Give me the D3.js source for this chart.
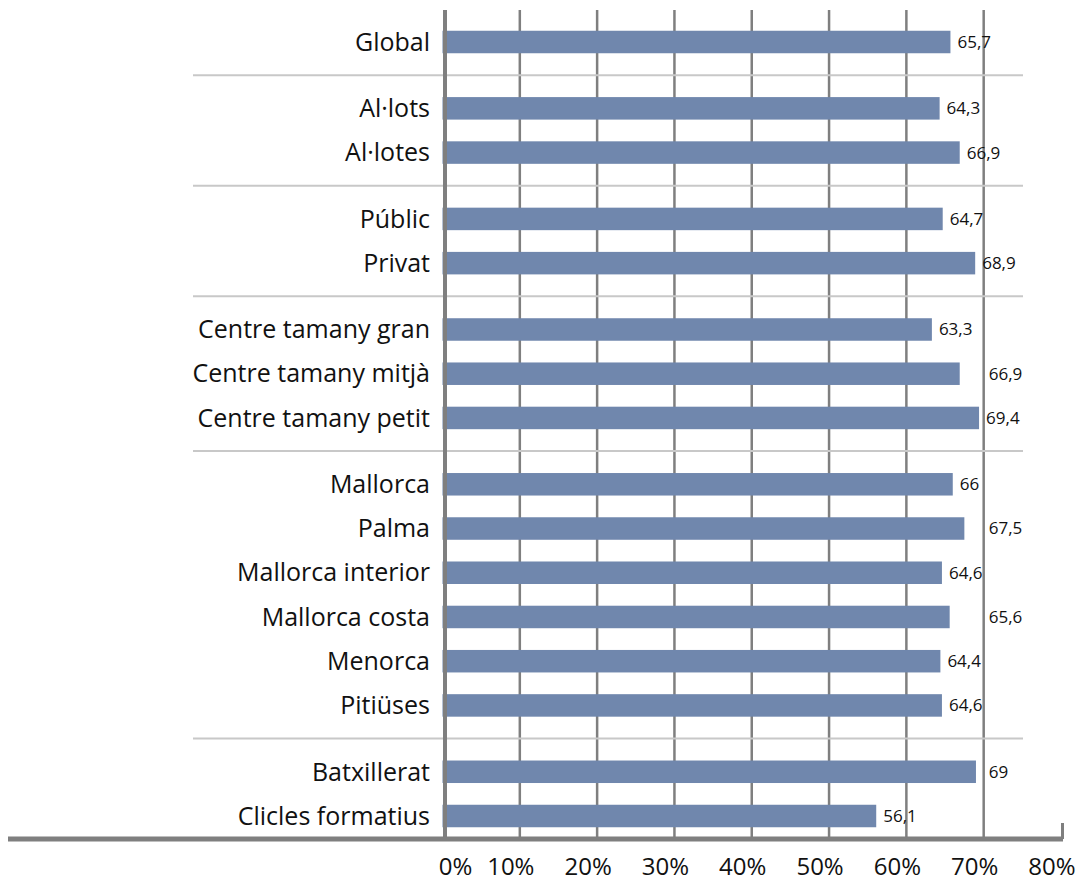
<!DOCTYPE html>
<html>
<head>
<meta charset="utf-8">
<script src="https://cdn.jsdelivr.net/npm/d3@7"></script>
<style>
  html, body { margin: 0; padding: 0; background: #fff; }
  svg { display: block; }
  text { font-family: "Open Sans", Lato, sans-serif; fill: #111; }
</style>
</head>
<body>
<svg id="chart" width="1087" height="883"></svg>
<script>
// ---- data ----
const categories = [
  "Global",
  "Al·lots", "Al·lotes",
  "Públic", "Privat",
  "Centre tamany gran", "Centre tamany mitjà", "Centre tamany petit",
  "Mallorca", "Palma", "Mallorca interior", "Mallorca costa", "Menorca", "Pitiüses",
  "Batxillerat", "Clicles formatius"
];
const values = [65.7, 64.3, 66.9, 64.7, 68.9, 63.3, 66.9, 69.4, 66, 67.5, 64.6, 65.6, 64.4, 64.6, 69, 56.1];
const groups = [0, 1, 1, 2, 2, 3, 3, 3, 4, 4, 4, 4, 4, 4, 5, 5];
const valueLabels = ["65,7", "64,3", "66,9", "64,7", "68,9", "63,3", "66,9", "69,4", "66", "67,5", "64,6", "65,6", "64,4", "64,6", "69", "56,1"];
const xTicks = [0, 10, 20, 30, 40, 50, 60, 70, 80];
const xTickLabels = ["0%", "10%", "20%", "30%", "40%", "50%", "60%", "70%", "80%"];
// labels that were moved to the right of the 70% gridline in the original
const labelsPastGrid = ["Centre tamany mitjà", "Palma", "Mallorca costa", "Batxillerat"];

// ---- layout ----
const svg = d3.select("#chart");
const GAP = 0.5;
const slot = categories.map((c, i) => i + GAP * groups[i]);
const x = d3.scaleLinear().domain([0, 80]).range([442.5, 1061]);
const y = d3.scaleLinear().domain([0, d3.max(slot)]).range([42, 816]);
const barH = 22.5;
const gridTop = 10, axisY = 839;

// gridlines
svg.append("g").selectAll("line").data(xTicks.filter(t => t > 0 && t < 80)).join("line")
  .attr("x1", d => x(d)).attr("x2", d => x(d))
  .attr("y1", gridTop).attr("y2", axisY)
  .attr("stroke", "#7f7f7f").attr("stroke-width", 2.5);

// group separators
const sepIdx = [];
for (let i = 1; i < categories.length; i++) if (groups[i] !== groups[i - 1]) sepIdx.push(i);
svg.append("g").selectAll("line").data(sepIdx).join("line")
  .attr("x1", 193).attr("x2", 1023)
  .attr("y1", i => (y(slot[i]) + y(slot[i - 1])) / 2)
  .attr("y2", i => (y(slot[i]) + y(slot[i - 1])) / 2)
  .attr("stroke", "#c8c8c8").attr("stroke-width", 2);

// bars
svg.append("g").selectAll("rect").data(values).join("rect")
  .attr("x", x(0))
  .attr("y", (d, i) => y(slot[i]) - barH / 2)
  .attr("width", d => x(d) - x(0))
  .attr("height", barH)
  .attr("fill", "#7087ad");

// vertical axis
svg.append("line")
  .attr("x1", 445).attr("x2", 445).attr("y1", gridTop).attr("y2", axisY + 2)
  .attr("stroke", "#7f7f7f").attr("stroke-width", 4);

// bottom axis
svg.append("line")
  .attr("x1", 8).attr("x2", x(80) + 2).attr("y1", axisY).attr("y2", axisY)
  .attr("stroke", "#7f7f7f").attr("stroke-width", 5);
svg.append("line")
  .attr("x1", x(80) + 1.5).attr("x2", x(80) + 1.5).attr("y1", 823).attr("y2", axisY)
  .attr("stroke", "#7f7f7f").attr("stroke-width", 3);

// category labels
svg.append("g").selectAll("text").data(categories).join("text")
  .attr("x", 430)
  .attr("y", (d, i) => y(slot[i]))
  .attr("dy", "0.35em")
  .attr("text-anchor", "end")
  .attr("font-size", 25)
  .text(d => d);

// value labels
svg.append("g").selectAll("text").data(values).join("text")
  .attr("x", (d, i) => labelsPastGrid.includes(categories[i]) ? x(70) + 5 : x(d) + 7)
  .attr("y", (d, i) => y(slot[i]))
  .attr("dy", "0.35em")
  .attr("font-size", 17)
  .text((d, i) => valueLabels[i]);

// x tick labels
svg.append("g").selectAll("text").data(xTicks).join("text")
  .attr("x", d => Math.max(x(d) - 9, x(0) + 13))
  .attr("y", 867)
  .attr("dy", "0.35em")
  .attr("text-anchor", "middle")
  .attr("font-size", 24)
  .text((d, i) => xTickLabels[i]);
</script>
</body>
</html>
